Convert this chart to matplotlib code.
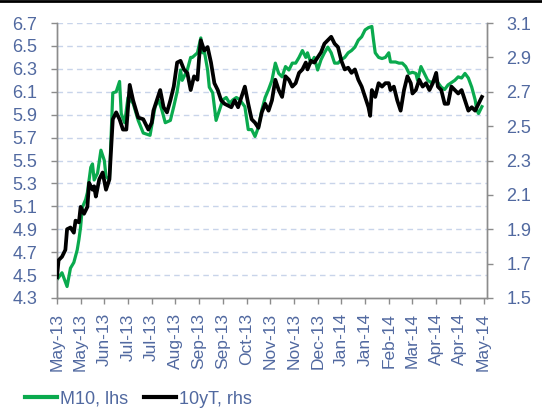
import matplotlib
matplotlib.use('Agg')
import matplotlib.pyplot as plt
from matplotlib.lines import Line2D

# trading-day index (tick every 14 days) and values
m10_day = [0, 3, 6, 8, 10, 12, 13, 14, 15, 17, 18, 20, 21, 22, 24, 26, 28, 29, 31, 33,
           35, 37, 38, 40, 42, 45, 48, 51, 55, 58, 60, 62, 64, 67, 69, 71, 73, 74, 77, 79,
           80, 83, 85, 86, 87, 89, 90, 92, 94, 96, 98, 100, 102, 104, 106, 108, 111, 113, 115, 117,
           119, 121, 123, 125, 127, 129, 131, 133, 135, 137, 139, 141, 143, 145, 147, 148, 150, 152, 154, 156,
           158, 160, 162, 164, 166, 168, 170, 172, 174, 176, 178, 180, 182, 184, 186, 187, 188, 190, 192, 194,
           196, 197, 200, 202, 204, 206, 208, 210, 212, 213, 215, 217, 219, 221, 223, 225, 227, 229, 231, 233,
           235, 237, 239, 241, 243, 245, 247, 248, 249, 251]
m10_val = [4.46, 4.52, 4.40, 4.56, 4.61, 4.72, 4.81, 4.92, 5.09, 5.16, 5.22, 5.44, 5.47, 5.33, 5.39, 5.59, 5.50, 5.36, 5.33, 6.09,
           6.10, 6.19, 5.91, 5.83, 6.05, 6.00, 5.85, 5.74, 5.72, 5.97, 6.03, 5.94, 5.83, 5.85, 5.97, 6.10, 6.29, 6.20, 6.29, 6.40,
           6.40, 6.44, 6.57, 6.44, 6.46, 6.29, 6.14, 6.09, 5.85, 5.94, 6.03, 6.05, 6.00, 6.03, 6.05, 6.03, 5.97, 5.77, 5.77, 5.71,
           5.79, 5.94, 6.05, 6.12, 6.20, 6.35, 6.26, 6.23, 6.32, 6.29, 6.35, 6.35, 6.40, 6.46, 6.40, 6.44, 6.35, 6.40, 6.29, 6.38,
           6.44, 6.49, 6.44, 6.35, 6.35, 6.38, 6.40, 6.44, 6.46, 6.49, 6.55, 6.58, 6.64, 6.66, 6.67, 6.55, 6.44, 6.40, 6.39, 6.40,
           6.44, 6.36, 6.36, 6.35, 6.35, 6.32, 6.26, 6.27, 6.26, 6.20, 6.32, 6.26, 6.20, 6.18, 6.20, 6.18, 6.14, 6.12, 6.16, 6.18,
           6.20, 6.23, 6.22, 6.26, 6.22, 6.14, 6.03, 5.94, 5.91, 5.97]

ust_day = [0, 1, 3, 5, 6, 8, 10, 11, 13, 14, 16, 18, 19, 21, 22, 23, 25, 27, 29, 31,
           33, 35, 37, 39, 41, 43, 45, 48, 51, 54, 56, 57, 59, 61, 63, 65, 67, 69, 71, 73,
           75, 77, 79, 81, 83, 84, 85, 87, 89, 91, 93, 95, 97, 99, 101, 103, 105, 107, 109, 111,
           113, 115, 117, 119, 121, 123, 125, 127, 129, 131, 133, 135, 137, 139, 141, 143, 145, 147, 148, 150,
           152, 154, 156, 158, 160, 162, 164, 166, 168, 170, 172, 174, 176, 178, 180, 182, 184, 185, 186, 188,
           190, 192, 194, 196, 197, 199, 201, 203, 205, 207, 209, 210, 212, 214, 216, 218, 220, 222, 224, 225,
           227, 229, 231, 233, 235, 237, 239, 241, 243, 245, 247, 249, 251]
ust_val = [1.62, 1.72, 1.74, 1.78, 1.90, 1.91, 1.88, 1.95, 1.94, 2.03, 1.99, 2.03, 2.17, 2.13, 2.15, 2.09, 2.19, 2.23, 2.13, 2.19,
           2.54, 2.58, 2.54, 2.48, 2.48, 2.74, 2.65, 2.55, 2.54, 2.48, 2.52, 2.59, 2.65, 2.71, 2.61, 2.58, 2.65, 2.73, 2.87, 2.88,
           2.83, 2.81, 2.71, 2.79, 2.77, 2.90, 3.00, 2.94, 2.96, 2.87, 2.75, 2.71, 2.65, 2.63, 2.62, 2.61, 2.65, 2.61, 2.67, 2.73,
           2.63, 2.54, 2.52, 2.49, 2.58, 2.63, 2.59, 2.65, 2.77, 2.71, 2.67, 2.79, 2.77, 2.73, 2.75, 2.81, 2.83, 2.87, 2.83, 2.88,
           2.87, 2.90, 2.93, 2.98, 3.00, 3.02, 2.98, 2.96, 2.88, 2.83, 2.84, 2.81, 2.83, 2.77, 2.73, 2.67, 2.61, 2.56, 2.71, 2.67,
           2.75, 2.73, 2.75, 2.75, 2.71, 2.73, 2.65, 2.59, 2.71, 2.79, 2.75, 2.69, 2.71, 2.77, 2.73, 2.75, 2.71, 2.75, 2.81, 2.73,
           2.71, 2.63, 2.63, 2.73, 2.71, 2.69, 2.71, 2.65, 2.59, 2.61, 2.59, 2.63, 2.67]

tick_labels = ['May-13', 'May-13', 'Jun-13', 'Jul-13', 'Jul-13', 'Aug-13', 'Sep-13', 'Sep-13',
               'Oct-13', 'Nov-13', 'Nov-13', 'Dec-13', 'Jan-14', 'Jan-14', 'Feb-14', 'Mar-14',
               'Apr-14', 'Apr-14', 'May-14']
left_ticks = [4.3, 4.5, 4.7, 4.9, 5.1, 5.3, 5.5, 5.7, 5.9, 6.1, 6.3, 6.5, 6.7]
right_ticks = [1.5, 1.7, 1.9, 2.1, 2.3, 2.5, 2.7, 2.9, 3.1]

GREEN = '#0AAA4E'
TXT = '#5169A0'
AX = '#8C8C8C'
NARROW = ['Liberation Sans Narrow', 'Liberation Sans', 'DejaVu Sans']

plt.rcParams['font.family'] = NARROW

fig = plt.figure(figsize=(5.42, 4.15), dpi=100)
ax = fig.add_axes([0.105, 0.282, 0.7935, 0.6625])
ax2 = ax.twinx()

ax.plot(m10_day, m10_val, color=GREEN, lw=2.3, solid_joinstyle='round', zorder=3)
ax2.plot(ust_day, ust_val, color='black', lw=2.7, solid_joinstyle='round', zorder=4)

ax.set_xlim(0, 254)
ax.set_ylim(4.3, 6.7)
ax2.set_ylim(1.5, 3.1)
ax.set_xticks([14 * i for i in range(len(tick_labels))])
ax.set_xticklabels(tick_labels, rotation=90, family=['Liberation Sans', 'DejaVu Sans'])
ax.set_yticks(left_ticks)
ax.set_yticklabels(['%.1f' % v for v in left_ticks])
ax2.set_yticks(right_ticks)
ax2.set_yticklabels(['%.1f' % v for v in right_ticks])

for v in left_ticks[1:]:
    ax.axhline(v, color='#C8D4EA', lw=1.0, ls=(0, (4, 3)), zorder=1)

for a in (ax, ax2):
    a.spines['top'].set_visible(False)
    for s in ('left', 'right', 'bottom'):
        a.spines[s].set_color(AX)
        a.spines[s].set_linewidth(1.0)
    a.tick_params(colors=AX, labelcolor=TXT, labelsize=13, length=4, width=1.0, pad=10)
ax.tick_params(axis='x', labelsize=12.5, pad=7)

handles = [Line2D([], [], color=GREEN, lw=3), Line2D([], [], color='black', lw=3)]
fig.legend(handles, ['M10, lhs', '10yT, rhs'], loc='center left', bbox_to_anchor=(0.046, 0.038),
           ncol=2, frameon=False, borderpad=0, borderaxespad=0, handlelength=1.8,
           handletextpad=0.12, columnspacing=0.9, fontsize=13, labelcolor=TXT)

fig.add_artist(Line2D([0, 1], [0.997, 0.997], color='black', lw=2, transform=fig.transFigure))

fig.savefig('out.png', dpi=100)
